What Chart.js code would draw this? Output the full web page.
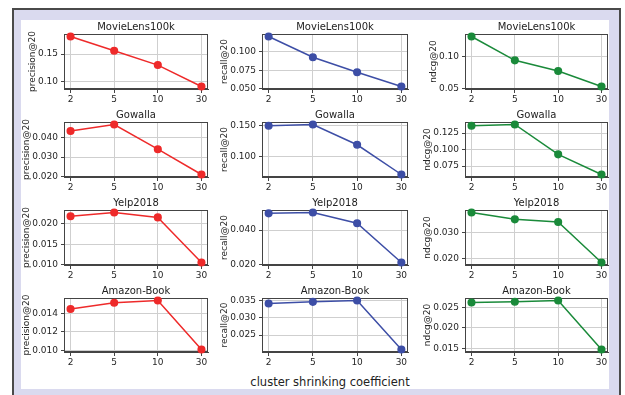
<!DOCTYPE html>
<html>
<head>
<meta charset="utf-8">
<script src="https://cdn.jsdelivr.net/npm/chart.js@4"></script>
<style>
  body { margin: 0; width: 625px; height: 395px; overflow: hidden; background: #fff; font-family: "DejaVu Sans", sans-serif; position: relative; }
  #frame { position: absolute; left: 12px; top: 8px; width: 605px; height: 400px; border: 2px solid #4a4a4a; background: #dadaef; }
  #inner { position: absolute; left: 21px; top: 20px; width: 588px; height: 369px; background: #fff; }
  canvas { position: absolute; }
  #xlab { position: absolute; left: 200px; width: 260px; top: 374px; text-align: center; font-size: 11.5px; line-height: 16px; color: #222; }
</style>
</head>
<body>
<div id="frame"></div>
<div id="inner"></div>
<div id="xlab">cluster shrinking coefficient</div>

<script>
const categories = ['2', '5', '10', '30'];
const datasetNames = ['MovieLens100k', 'Gowalla', 'Yelp2018', 'Amazon-Book'];
const metricNames = ['precision@20', 'recall@20', 'ndcg@20'];
const metricColors = ['#ee2a2a', '#3d4ea6', '#1a8a3a'];

// values
const mlPrecision = [0.182, 0.156, 0.130, 0.091];
const mlRecall = [0.1207, 0.0927, 0.0723, 0.0531];
const mlNdcg = [0.1307, 0.0939, 0.0775, 0.0535];
const gwPrecision = [0.0432, 0.0465, 0.0340, 0.0212];
const gwRecall = [0.150, 0.152, 0.1195, 0.0718];
const gwNdcg = [0.1361, 0.138, 0.0928, 0.0623];
const ypPrecision = [0.0219, 0.0228, 0.0216, 0.0106];
const ypRecall = [0.0497, 0.0502, 0.0440, 0.0212];
const ypNdcg = [0.0375, 0.0349, 0.0339, 0.0185];
const abPrecision = [0.01447, 0.01514, 0.01539, 0.0101];
const abRecall = [0.0341, 0.0346, 0.0350, 0.0208];
const abNdcg = [0.0262, 0.0264, 0.0267, 0.0147];

// y tick labels
const mlPrecisionTicks = ['0.10', '0.15'];
const mlRecallTicks = ['0.050', '0.075', '0.100'];
const mlNdcgTicks = ['0.05', '0.10'];
const gwPrecisionTicks = ['0.020', '0.030', '0.040'];
const gwRecallTicks = ['0.100', '0.150'];
const gwNdcgTicks = ['0.075', '0.100', '0.125'];
const ypPrecisionTicks = ['0.010', '0.015', '0.020'];
const ypRecallTicks = ['0.020', '0.040'];
const ypNdcgTicks = ['0.020', '0.030'];
const abPrecisionTicks = ['0.010', '0.012', '0.014'];
const abRecallTicks = ['0.025', '0.030', '0.035'];
const abNdcgTicks = ['0.015', '0.020', '0.025'];

const grid = [
  [[mlPrecision, mlPrecisionTicks], [mlRecall, mlRecallTicks], [mlNdcg, mlNdcgTicks]],
  [[gwPrecision, gwPrecisionTicks], [gwRecall, gwRecallTicks], [gwNdcg, gwNdcgTicks]],
  [[ypPrecision, ypPrecisionTicks], [ypRecall, ypRecallTicks], [ypNdcg, ypNdcgTicks]],
  [[abPrecision, abPrecisionTicks], [abRecall, abRecallTicks], [abNdcg, abNdcgTicks]]
];

// plot area edges (px)
const colLeft = [64, 262, 465];
const colRight = [208, 408, 608];
const rowTop = [34, 122, 210, 298];
const rowBottom = [89, 177, 265, 352];

const TH = 16, XH = 17;

Chart.defaults.font.family = 'DejaVu Sans';
Chart.defaults.color = '#262626';

const measure = document.createElement('canvas').getContext('2d');
measure.font = '9px "DejaVu Sans"';

const framePlugin = {
  id: 'frame',
  beforeDatasetsDraw(chart) {
    const a = chart.chartArea, c = chart.ctx;
    c.save();
    c.strokeStyle = '#444';
    c.lineWidth = 1;
    c.strokeRect(Math.round(a.left) + 0.5, Math.round(a.top) + 0.5, Math.round(a.right - a.left) - 1, Math.round(a.bottom - a.top) - 1);
    c.restore();
  }
};

for (let r = 0; r < 4; r++) {
  for (let c = 0; c < 3; c++) {
    const [vals, ticks] = grid[r][c];
    const w = colRight[c] - colLeft[c], h = rowBottom[r] - rowTop[r];
    // y label sits just left of the widest tick label, like matplotlib
    const maxW = Math.max(...ticks.map(t => measure.measureText(t).width));
    const YW = Math.round(maxW + 18);

    const cv = document.createElement('canvas');
    cv.width = YW + w + YW;
    cv.height = TH + h + XH;
    cv.style.left = (colLeft[c] - YW) + 'px';
    cv.style.top = (rowTop[r] - TH) + 'px';
    document.body.appendChild(cv);

    const lo = Math.min(...vals), hi = Math.max(...vals), span = hi - lo;
    const tickVals = ticks.map(Number);

    new Chart(cv, {
      type: 'line',
      data: {
        datasets: [{
          data: vals.map((v, i) => ({ x: i, y: v })),
          borderColor: metricColors[c],
          backgroundColor: metricColors[c],
          borderWidth: 1.5,
          pointRadius: 3.3,
          pointHoverRadius: 3.3,
          clip: false
        }]
      },
      options: {
        responsive: false,
        animation: false,
        layout: { padding: 0 },
        plugins: {
          legend: { display: false },
          tooltip: { enabled: false },
          title: {
            display: true,
            text: datasetNames[r],
            font: { size: 10, weight: 'normal' },
            color: '#222',
            padding: { top: 3, bottom: 1 }
          }
        },
        scales: {
          x: {
            type: 'linear',
            min: -0.15,
            max: 3.15,
            afterBuildTicks: s => { s.ticks = categories.map((_, i) => ({ value: i })); },
            afterFit: s => { s.height = XH; },
            ticks: { font: { size: 9 }, padding: 1, maxRotation: 0, callback: (v) => categories[v] },
            grid: { color: '#cfcfcf', tickColor: '#444', tickLength: 4 },
            border: { color: '#444', width: 1 }
          },
          y: {
            min: lo - 0.05 * span,
            max: hi + 0.05 * span,
            afterBuildTicks: s => { s.ticks = tickVals.map(v => ({ value: v })); },
            afterFit: s => { s.width = YW; },
            ticks: { font: { size: 9 }, padding: 3, callback: (v, i) => ticks[i] },
            grid: { color: '#cfcfcf', tickColor: '#444', tickLength: 3 },
            border: { color: '#444', width: 1 },
            title: { display: true, text: metricNames[c], font: { size: 9 }, padding: { top: 1, bottom: 0 } }
          },
          // empty right-hand axis, only to keep the title centred over the plot
          yPad: {
            type: 'linear',
            position: 'right',
            afterFit: s => { s.width = YW; },
            ticks: { display: false },
            grid: { display: false },
            border: { display: false }
          }
        }
      },
      plugins: [framePlugin]
    });
  }
}
</script>
</body>
</html>
